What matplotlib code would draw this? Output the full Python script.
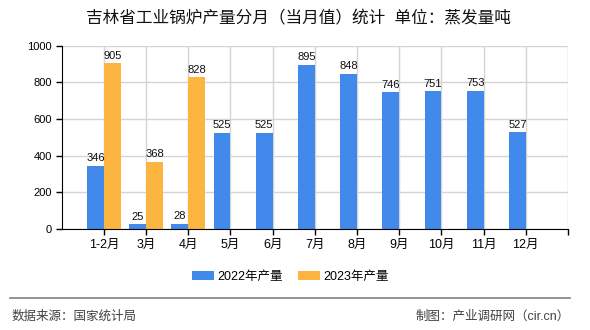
import matplotlib.pyplot as plt
import numpy as np

plt.rcParams['font.family'] = ['Liberation Sans', 'Noto Sans CJK SC', 'DejaVu Sans']

# 月度产量（蒸发量吨）
months = ['1-2月', '3月', '4月', '5月', '6月', '7月', '8月', '9月', '10月', '11月', '12月']
prod_2022 = [346, 25, 28, 525, 525, 895, 848, 746, 751, 753, 527]
prod_2023 = [905, 368, 828]

blue = '#4189ea'
orange = '#fbb540'

fig = plt.figure(figsize=(5.9, 3.3), dpi=100)
ax = fig.add_axes([0.1046, 0.3061, 0.8581, 0.5554])

x = np.arange(len(months))
w = 0.4
b1 = ax.bar(x[:len(prod_2022)] - w, prod_2022, width=w, align='edge', color=blue,
            label='2022年产量', zorder=2)
b2 = ax.bar(x[:len(prod_2023)], prod_2023, width=w, align='edge', color=orange,
            label='2023年产量', zorder=2)

for bars, vals in ((b1, prod_2022), (b2, prod_2023)):
    for r, v in zip(bars, vals):
        ax.text(r.get_x() + r.get_width() / 2, v + 14, str(v), ha='center', va='bottom',
                fontsize=8, color='#111111', zorder=3)

ax.set_xlim(-1, len(months))
ax.set_ylim(0, 1000)
ax.set_yticks(range(0, 1001, 200))
ax.set_xticks(list(x) + [len(months)])
ax.set_xticklabels(months + [''])
ax.tick_params(axis='both', labelsize=8, length=4, width=1, color='black', direction='out')
ax.tick_params(axis='x', labelsize=9, pad=3)
ax.tick_params(axis='y', pad=3)

ax.grid(True, color='#d4d4d4', linewidth=1, zorder=0)
ax.set_axisbelow(True)
for s in ('top', 'right'):
    ax.spines[s].set_visible(False)
ax.spines['left'].set_color('black')
ax.spines['bottom'].set_color('black')

fig.text(0.505, 0.945, '吉林省工业锅炉产量分月（当月值）统计  单位：蒸发量吨',
         ha='center', va='center', fontsize=12, color='#111111')

fig.legend(handles=[b1, b2], loc='center', bbox_to_anchor=(0.492, 0.161), ncol=2,
           frameon=False, fontsize=9, handlelength=1.75, handleheight=0.7,
           handletextpad=0.3, columnspacing=1.2)

# 底部分隔线与来源说明
fig.add_artist(plt.Line2D([10 / 590, 570 / 590], [1 - 298 / 330] * 2,
                          color='#808080', linewidth=1.2))
fig.text(12 / 590, 1 - 317 / 330, '数据来源：国家统计局', ha='left', va='center',
         fontsize=9, color='#404040')
fig.text(570 / 590, 1 - 317 / 330, '制图：产业调研网（cir.cn）', ha='right', va='center',
         fontsize=9, color='#404040')

fig.savefig('out.png', dpi=100)
